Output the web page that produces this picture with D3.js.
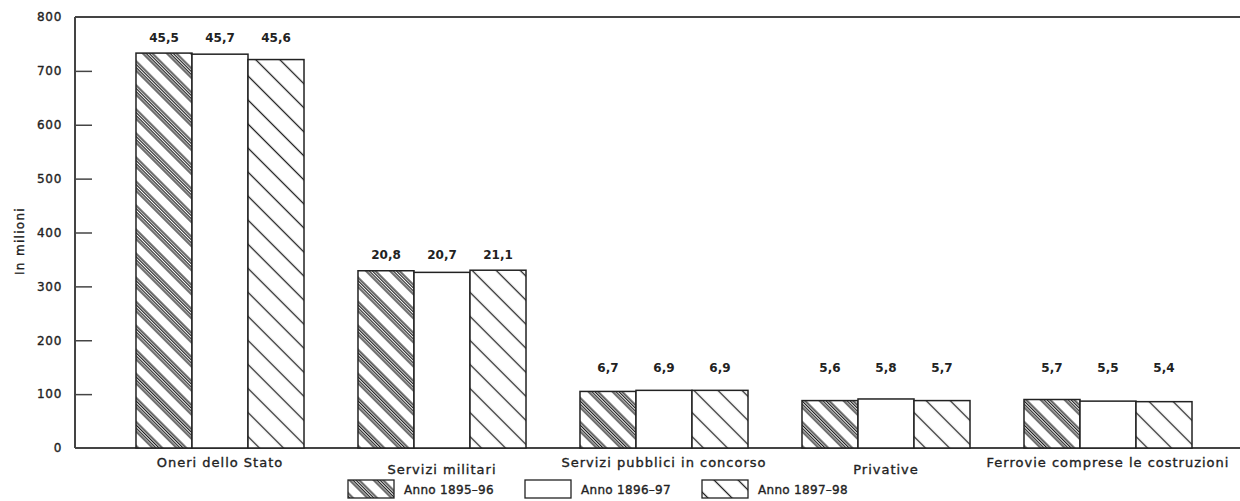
<!DOCTYPE html>
<html><head><meta charset="utf-8">
<script src="https://cdn.jsdelivr.net/npm/d3@7/dist/d3.min.js"></script>
<style>
html,body{margin:0;padding:0;background:#fff;}
svg{display:block;}
text{font-family:"DejaVu Sans",sans-serif;fill:#222;}
</style></head>
<body><svg id="chart" width="1240" height="501"></svg>
<script>
const categories = ["Oneri dello Stato","Servizi militari","Servizi pubblici in concorso","Privative","Ferrovie comprese le costruzioni"];
const seriesNames = ["Anno 1895\u201396","Anno 1896\u201397","Anno 1897\u201398"];
const values1895 = [733, 329, 105, 88, 90];
const values1896 = [731, 326, 107, 91, 87];
const values1897 = [721, 330, 107, 88, 86];
const labels1895 = ["45,5","20,8","6,7","5,6","5,7"];
const labels1896 = ["45,7","20,7","6,9","5,8","5,5"];
const labels1897 = ["45,6","21,1","6,9","5,7","5,4"];
const yTicks = [0,100,200,300,400,500,600,700,800];
const yTitle = "In  milioni";

const series = [
  {name: seriesNames[0], values: values1895, labels: labels1895, fill: "url(#pat1)"},
  {name: seriesNames[1], values: values1896, labels: labels1896, fill: "#fff"},
  {name: seriesNames[2], values: values1897, labels: labels1897, fill: "url(#pat3)"}
];

const svg = d3.select("#chart");
const left = 75, right = 1240;
const y = d3.scaleLinear().domain([0, 800]).range([448, 17]);
const x0 = d3.scaleBand().domain(categories).range([109, 1219]).paddingInner(0.2432).paddingOuter(0.1216);
const x1 = d3.scaleBand().domain(d3.range(series.length)).range([0, x0.bandwidth()]);

// patterns
const defs = svg.append("defs");
const p1 = defs.append("pattern").attr("id","pat1").attr("patternUnits","userSpaceOnUse")
  .attr("width",17).attr("height",17).attr("patternTransform","rotate(-45)");
p1.append("rect").attr("width",17).attr("height",17).attr("fill","#fff");
[1.0, 3.3, 5.6, 7.9].forEach(px => p1.append("line").attr("x1",px).attr("x2",px).attr("y1",-1).attr("y2",18)
  .attr("stroke","#1a1a1a").attr("stroke-width",1.25));
const p3 = defs.append("pattern").attr("id","pat3").attr("patternUnits","userSpaceOnUse")
  .attr("width",17).attr("height",17).attr("patternTransform","rotate(-45)");
p3.append("rect").attr("width",17).attr("height",17).attr("fill","#fff");
p3.append("line").attr("x1",8.5).attr("x2",8.5).attr("y1",-1).attr("y2",18).attr("stroke","#222").attr("stroke-width",1.3);

// axis
const yAxis = d3.axisLeft(y).tickValues(yTicks).tickSizeInner(-17).tickSizeOuter(0).tickPadding(13).tickFormat(d3.format("d"));
const ga = svg.append("g").attr("transform",`translate(${left},0)`).call(yAxis);
ga.select(".domain").remove();
ga.selectAll(".tick line").attr("stroke","#444").attr("stroke-width",1.5)
  .attr("display", d => (d === 0 || d === 800) ? "none" : null);
ga.selectAll(".tick text").attr("font-size",12).attr("letter-spacing","0.7px").attr("fill","#222")
  .attr("stroke","#222").attr("stroke-width",0.35).style("font-family","DejaVu Sans");

// frame lines
svg.append("line").attr("x1",left).attr("x2",left).attr("y1",y(800)).attr("y2",y(0)).attr("stroke","#444").attr("stroke-width",2);
svg.append("line").attr("x1",left).attr("x2",right).attr("y1",y(800)).attr("y2",y(800)).attr("stroke","#444").attr("stroke-width",2);
svg.append("line").attr("x1",left).attr("x2",right).attr("y1",y(0)).attr("y2",y(0)).attr("stroke","#444").attr("stroke-width",2);

// y title
svg.append("text").attr("transform",`translate(24,241) rotate(-90)`).attr("text-anchor","middle")
  .attr("font-size",12).attr("letter-spacing","1.3px").attr("stroke","#222").attr("stroke-width",0.35).text(yTitle);

// bars
const groups = svg.append("g").selectAll("g").data(categories).join("g")
  .attr("transform", c => `translate(${x0(c)},0)`);
groups.selectAll("rect").data((c,i) => series.map((s,j) => ({j, v: s.values[i], fill: s.fill})))
  .join("rect")
  .attr("x", d => x1(d.j)).attr("width", x1.bandwidth())
  .attr("y", d => y(d.v)).attr("height", d => y(0) - y(d.v))
  .attr("fill", d => d.fill).attr("stroke","#222").attr("stroke-width",1.5);

// value labels
groups.each(function(c, i) {
  const gmax = d3.max(series, s => s.values[i]);
  const base = Math.min(y(gmax) - 11, 372);
  d3.select(this).selectAll("text.val").data(series.map((s,j) => ({j, t: s.labels[i]})))
    .join("text").attr("class","val")
    .attr("x", d => x1(d.j) + x1.bandwidth()/2).attr("y", base)
    .attr("text-anchor","middle").attr("font-size",12).attr("font-weight","bold").text(d => d.t);
});

// category labels (staggered)
svg.append("g").selectAll("text").data(categories).join("text")
  .attr("x", c => x0(c) + x0.bandwidth()/2)
  .attr("y", (c,i) => i % 2 === 0 ? 467 : 474)
  .attr("text-anchor","middle").attr("font-size",13).attr("letter-spacing","1px")
  .attr("stroke","#222").attr("stroke-width",0.35).text(c => c);

// legend
const legendX = [348, 525, 702];
const lg = svg.append("g").selectAll("g").data(series).join("g")
  .attr("transform", (s,i) => `translate(${legendX[i]},480)`);
lg.append("rect").attr("width",46).attr("height",18).attr("fill", s => s.fill).attr("stroke","#222").attr("stroke-width",1.3);
lg.append("text").attr("x",56).attr("y",14).attr("font-size",12).attr("letter-spacing","0.3px")
  .attr("stroke","#222").attr("stroke-width",0.35).text(s => s.name);
</script></body></html>
